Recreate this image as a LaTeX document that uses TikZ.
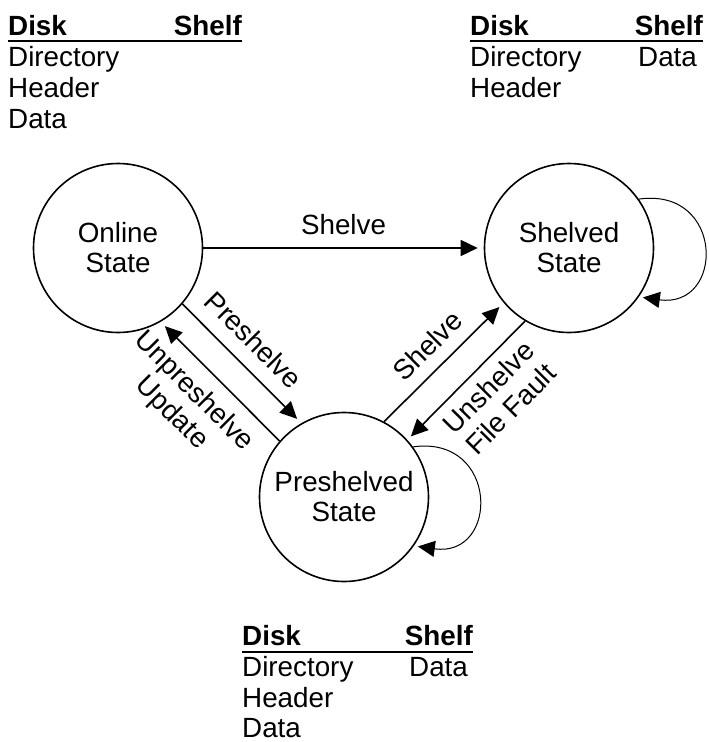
\documentclass[tikz,border=0pt]{standalone}
\usepackage{fontspec}
\setmainfont{Liberation Sans}
\usetikzlibrary{arrows.meta,calc}
\begin{document}
\begin{tikzpicture}[x=1pt,y=-1pt,
  every node/.style={font=\fontsize{27.8}{31}\selectfont, inner sep=0pt},
  state/.style={draw, circle, line width=1.6pt, minimum size=169pt, align=center, font=\fontsize{27.8}{30}\selectfont},
  arr/.style={line width=1.6pt, -{Triangle[length=17pt,width=16pt]}, shorten >=6pt},
  loopy/.style={line width=1pt, -{Triangle[length=17pt,width=16pt]}, shorten >=4pt},
  tl/.style={anchor=base west},
  tr/.style={anchor=base east},
  hdr/.style={font=\fontsize{27.8}{31}\selectfont\bfseries},
  rulel/.style={line width=1.4pt}
]
\useasboundingbox (0,0) rectangle (709,742);

% states
\node[state] (on) at (118,248) {Online\\State};
\node[state] (sh) at (569,248) {Shelved\\State};
\node[state] (pre) at (344,497) {Preshelved\\State};

% transitions
\draw[arr] (on.east) -- (sh.west) node[midway, above=12pt] {Shelve};
\draw[arr] (on.-41) -- (pre.120) node[pos=0.45, sloped, above=14pt] {Preshelve};
\draw[arr] (pre.139) -- (on.-60);
\path (on.-60) -- (pre.139) node[pos=0.43, sloped, below=13pt, align=center] {Unpreshelve\\Update};
\draw[arr] (pre.62) -- (sh.220) node[midway, sloped, above=12pt] {Shelve};
\draw[arr, shorten >=5pt] (sh.239) -- (pre.42);
\path (pre.42) -- (sh.239) node[pos=0.565, sloped, below=10pt, align=center] {Unshelve\\File Fault};

% self loops
\draw[loopy] (sh.35) .. controls +(86,-12) and +(86,12) .. (sh.-35);
\draw[loopy] (pre.36) .. controls +(86,-12) and +(86,12) .. (pre.-35);

% table top left
\node[hdr, tl] (d1) at (8,35) {Disk};
\node[hdr, tr] (s1) at (242,35) {Shelf};
\coordinate (r1a) at (8,41); \coordinate (r1b) at (242,41);
\draw[rulel] (r1a) -- (r1b);
\node[tl] (a1) at (8,66) {Directory};
\node[tl] (b1) at (8,97) {Header};
\node[tl] (c1) at (8,128) {Data};

% table top right
\node[hdr, tl] (d2) at (470,35) {Disk};
\node[hdr, tr] (s2) at (703,35) {Shelf};
\coordinate (r2a) at (470,41); \coordinate (r2b) at (703,41);
\draw[rulel] (r2a) -- (r2b);
\node[tl] (a2) at (470,66) {Directory};
\node[tl] (b2) at (470,97) {Header};
\node[tl] (e2) at (638,66) {Data};

% table bottom
\node[hdr, tl] (d3) at (242,645) {Disk};
\node[hdr, tr] (s3) at (473,645) {Shelf};
\coordinate (r3a) at (242,652); \coordinate (r3b) at (473,652);
\draw[rulel] (r3a) -- (r3b);
\node[tl] (a3) at (242,676) {Directory};
\node[tl] (b3) at (242,707) {Header};
\node[tl] (c3) at (242,737) {Data};
\node[tl] (e3) at (409,676) {Data};
\end{tikzpicture}
\end{document}
